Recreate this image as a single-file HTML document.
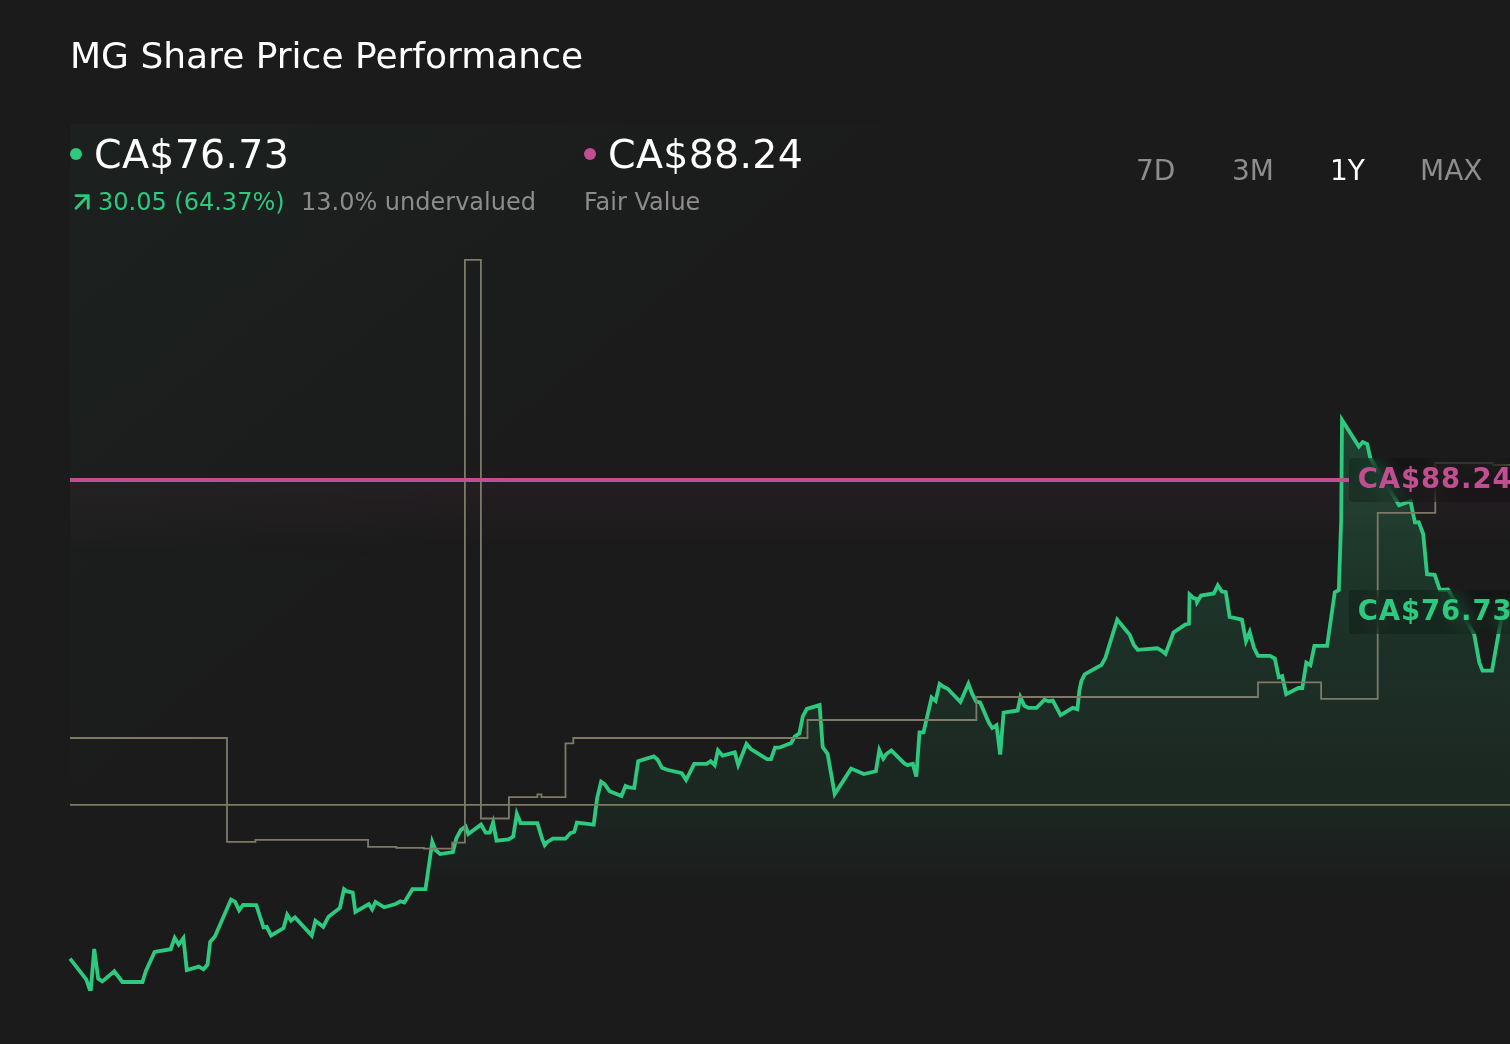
<!DOCTYPE html>
<html><head><meta charset="utf-8"><title>MG Share Price Performance</title>
<style>
html,body{margin:0;padding:0;background:#1b1b1b;}
body{width:1510px;height:1044px;position:relative;overflow:hidden;font-family:"DejaVu Sans","Liberation Sans",sans-serif;color:#fff;}
.abs{position:absolute;white-space:nowrap;line-height:1;will-change:transform;}
#title{left:70px;top:38px;font-size:36px;}
#chartbg{position:absolute;left:70px;top:124px;width:1440px;height:920px;background:linear-gradient(140deg,rgba(45,201,126,0.03) 0%,rgba(45,201,126,0.02) 18%,rgba(45,201,126,0.008) 28%,rgba(45,201,126,0) 36%);}
.big{font-size:39.5px;letter-spacing:0.3px;}
.sub{font-size:24px;}
.grey{color:#8c8c8c;}
.green{color:#2dc97e;}
.dot{position:absolute;width:12px;height:12px;border-radius:50%;}
.tab{font-size:28px;color:#8d8d8d;}
.lbl{position:absolute;left:1348.5px;width:170px;height:44px;border-radius:4px;background:rgba(0,0,0,0.22);backdrop-filter:blur(10px);-webkit-backdrop-filter:blur(10px);}
.lbl span{position:absolute;left:9.2px;top:7.4px;font-size:27.5px;letter-spacing:0.9px;font-weight:bold;line-height:1;white-space:nowrap;}
svg{position:absolute;left:0;top:0;}
</style></head><body>
<div id="chartbg"></div>
<div id="title" class="abs">MG Share Price Performance</div>

<div class="dot" style="left:70px;top:148px;background:#2dc97e"></div>
<div class="abs big" id="p1" style="left:94px;top:135px;">CA$76.73</div>
<svg id="arrow" width="20" height="20" style="left:72px;top:192px" viewBox="0 0 20 20"><path d="M4,16.2 L16.2,3.6 M4,3.6 H16.2 V16.2" fill="none" stroke="#2dc97e" stroke-width="2.9" stroke-linecap="round" stroke-linejoin="round"/></svg>
<div class="abs sub green" id="chg" style="left:98px;top:190px;">30.05 (64.37%)</div>
<div class="abs sub grey" id="uv" style="left:301px;top:190px;">13.0% undervalued</div>

<div class="dot" style="left:584px;top:148px;background:#c24e92"></div>
<div class="abs big" id="p2" style="left:608px;top:135px;">CA$88.24</div>
<div class="abs sub grey" id="fv" style="left:584px;top:190px;">Fair Value</div>

<div class="abs tab" id="t1" style="left:1136px;top:156.5px;">7D</div>
<div class="abs tab" id="t2" style="left:1231.5px;top:156.5px;">3M</div>
<div class="abs tab" id="t3" style="left:1329.5px;top:156.5px;color:#fff;">1Y</div>
<div class="abs tab" id="t4" style="left:1420px;top:156.5px;">MAX</div>

<svg width="1510" height="1044" viewBox="0 0 1510 1044">
<defs>
<linearGradient id="gg" x1="0" y1="400" x2="0" y2="900" gradientUnits="userSpaceOnUse">
<stop offset="0" stop-color="#2dc97e" stop-opacity="0.24"/>
<stop offset="0.48" stop-color="#2dc97e" stop-opacity="0.125"/>
<stop offset="0.81" stop-color="#2dc97e" stop-opacity="0.07"/>
<stop offset="1" stop-color="#2dc97e" stop-opacity="0"/>
</linearGradient>
<linearGradient id="pg" x1="0" y1="480" x2="0" y2="556" gradientUnits="userSpaceOnUse">
<stop offset="0" stop-color="#c24e92" stop-opacity="0.06"/>
<stop offset="1" stop-color="#c24e92" stop-opacity="0"/>
</linearGradient>
</defs>
<rect x="70" y="480" width="1440" height="80" fill="url(#pg)"/>
<path d="M70.0,958.6 L86.2,979.4 L89.6,989.0 L90.9,989.0 L94.2,949.0 L98.2,978.7 L102.3,981.4 L114.3,971.3 L122.4,982.0 L142.5,982.0 L145.8,971.3 L154.6,951.9 L170.7,949.2 L174.7,937.9 L178.7,944.5 L183.4,938.1 L186.8,970.0 L198.8,966.6 L203.5,969.3 L207.5,964.6 L210.2,941.8 L214.9,936.5 L231.0,899.6 L235.0,901.6 L239.1,910.3 L243.1,904.9 L256.3,905.1 L263.5,927.4 L266.8,926.8 L271.1,935.5 L283.6,928.1 L287.2,914.7 L291.0,920.7 L295.0,917.4 L311.8,935.5 L315.4,920.7 L323.2,926.8 L328.5,916.7 L339.9,908.0 L344.0,889.2 L346.6,891.2 L352.7,892.6 L355.4,912.0 L368.8,904.0 L372.1,909.3 L375.5,901.9 L384.2,907.3 L395.6,904.0 L400.3,901.3 L404.3,902.6 L412.4,889.2 L425.5,889.2 L432.3,842.0 L435.4,850.0 L440.1,854.1 L452.9,852.1 L456.2,838.7 L460.9,829.9 L465.6,826.6 L468.3,834.0 L481.0,824.6 L485.7,832.6 L489.8,832.6 L493.1,822.5 L496.5,840.7 L508.5,839.3 L513.2,836.6 L516.8,813.8 L520.6,823.2 L537.4,823.2 L542.1,838.7 L544.7,845.1 L547.4,842.0 L552.8,838.7 L565.5,838.7 L570.2,833.3 L574.3,831.9 L576.9,822.6 L593.7,824.6 L597.1,798.4 L601.1,781.6 L604.5,784.0 L609.6,791.2 L621.5,796.0 L625.5,785.9 L628.8,787.3 L634.2,787.9 L638.2,761.1 L653.7,756.4 L657.7,759.8 L662.0,767.8 L667.1,769.8 L681.8,773.2 L686.1,780.0 L694.2,763.8 L706.6,763.8 L710.7,761.1 L714.7,765.1 L718.0,750.4 L722.7,755.7 L734.8,752.4 L738.2,764.9 L746.5,743.9 L750.9,749.0 L767.0,759.1 L771.0,759.1 L775.0,747.7 L779.1,747.7 L791.2,743.0 L794.7,736.6 L799.4,733.3 L802.8,716.3 L806.8,708.9 L819.6,705.1 L822.7,747.1 L827.6,753.8 L834.7,794.1 L851.1,768.6 L863.8,774.0 L875.9,771.3 L879.3,750.1 L883.3,758.7 L886.6,753.8 L891.3,750.5 L904.1,763.2 L907.4,765.2 L912.8,763.9 L916.3,776.5 L919.5,732.4 L923.5,732.4 L931.6,697.5 L935.6,700.9 L939.6,683.9 L943.6,686.8 L947.7,688.8 L960.4,702.0 L968.4,683.8 L972.2,694.0 L976.3,701.7 L980.1,702.5 L988.8,722.6 L992.2,728.0 L996.5,725.3 L1000.2,754.5 L1003.6,712.6 L1017.7,710.5 L1020.4,697.2 L1024.4,705.8 L1028.4,707.9 L1036.5,707.9 L1044.5,699.8 L1048.5,701.2 L1052.8,700.5 L1060.6,715.2 L1072.7,707.9 L1077.4,709.2 L1079.4,690.4 L1081.4,681.0 L1084.7,674.3 L1101.5,664.9 L1105.5,657.6 L1117.2,619.6 L1129.7,634.8 L1133.7,644.8 L1137.7,649.8 L1157.3,648.3 L1161.5,650.5 L1165.5,653.8 L1173.5,632.4 L1185.6,624.3 L1189.0,623.7 L1189.6,594.4 L1193.7,598.2 L1196.3,598.8 L1197.0,602.3 L1201.0,595.5 L1213.8,593.5 L1217.8,585.3 L1221.8,591.5 L1225.8,592.1 L1229.6,616.9 L1241.9,619.6 L1246.0,641.1 L1249.7,632.2 L1254.0,647.8 L1258.0,655.8 L1270.1,655.8 L1274.8,658.5 L1278.8,677.3 L1282.2,676.0 L1286.2,694.1 L1298.3,688.0 L1302.3,688.0 L1306.3,662.6 L1310.4,665.2 L1314.4,645.8 L1327.1,645.8 L1334.8,592.3 L1338.8,590.2 L1341.2,520.0 L1342.0,420.0 L1358.9,446.5 L1362.7,442.1 L1367.2,444.0 L1370.3,458.0 L1399.0,505.1 L1410.5,501.3 L1414.9,522.3 L1418.8,522.1 L1423.2,534.0 L1427.0,574.2 L1434.7,574.8 L1439.8,589.8 L1448.0,589.5 L1474.2,634.4 L1479.3,662.4 L1482.5,670.7 L1492.0,670.7 L1498.4,634.4 L1502.5,611.0 L1510.0,611.0 L1510,1044 L70,1044 Z" fill="url(#gg)"/>
<path d="M70.0,958.6 L86.2,979.4 L89.6,989.0 L90.9,989.0 L94.2,949.0 L98.2,978.7 L102.3,981.4 L114.3,971.3 L122.4,982.0 L142.5,982.0 L145.8,971.3 L154.6,951.9 L170.7,949.2 L174.7,937.9 L178.7,944.5 L183.4,938.1 L186.8,970.0 L198.8,966.6 L203.5,969.3 L207.5,964.6 L210.2,941.8 L214.9,936.5 L231.0,899.6 L235.0,901.6 L239.1,910.3 L243.1,904.9 L256.3,905.1 L263.5,927.4 L266.8,926.8 L271.1,935.5 L283.6,928.1 L287.2,914.7 L291.0,920.7 L295.0,917.4 L311.8,935.5 L315.4,920.7 L323.2,926.8 L328.5,916.7 L339.9,908.0 L344.0,889.2 L346.6,891.2 L352.7,892.6 L355.4,912.0 L368.8,904.0 L372.1,909.3 L375.5,901.9 L384.2,907.3 L395.6,904.0 L400.3,901.3 L404.3,902.6 L412.4,889.2 L425.5,889.2 L432.3,842.0 L435.4,850.0 L440.1,854.1 L452.9,852.1 L456.2,838.7 L460.9,829.9 L465.6,826.6 L468.3,834.0 L481.0,824.6 L485.7,832.6 L489.8,832.6 L493.1,822.5 L496.5,840.7 L508.5,839.3 L513.2,836.6 L516.8,813.8 L520.6,823.2 L537.4,823.2 L542.1,838.7 L544.7,845.1 L547.4,842.0 L552.8,838.7 L565.5,838.7 L570.2,833.3 L574.3,831.9 L576.9,822.6 L593.7,824.6 L597.1,798.4 L601.1,781.6 L604.5,784.0 L609.6,791.2 L621.5,796.0 L625.5,785.9 L628.8,787.3 L634.2,787.9 L638.2,761.1 L653.7,756.4 L657.7,759.8 L662.0,767.8 L667.1,769.8 L681.8,773.2 L686.1,780.0 L694.2,763.8 L706.6,763.8 L710.7,761.1 L714.7,765.1 L718.0,750.4 L722.7,755.7 L734.8,752.4 L738.2,764.9 L746.5,743.9 L750.9,749.0 L767.0,759.1 L771.0,759.1 L775.0,747.7 L779.1,747.7 L791.2,743.0 L794.7,736.6 L799.4,733.3 L802.8,716.3 L806.8,708.9 L819.6,705.1 L822.7,747.1 L827.6,753.8 L834.7,794.1 L851.1,768.6 L863.8,774.0 L875.9,771.3 L879.3,750.1 L883.3,758.7 L886.6,753.8 L891.3,750.5 L904.1,763.2 L907.4,765.2 L912.8,763.9 L916.3,776.5 L919.5,732.4 L923.5,732.4 L931.6,697.5 L935.6,700.9 L939.6,683.9 L943.6,686.8 L947.7,688.8 L960.4,702.0 L968.4,683.8 L972.2,694.0 L976.3,701.7 L980.1,702.5 L988.8,722.6 L992.2,728.0 L996.5,725.3 L1000.2,754.5 L1003.6,712.6 L1017.7,710.5 L1020.4,697.2 L1024.4,705.8 L1028.4,707.9 L1036.5,707.9 L1044.5,699.8 L1048.5,701.2 L1052.8,700.5 L1060.6,715.2 L1072.7,707.9 L1077.4,709.2 L1079.4,690.4 L1081.4,681.0 L1084.7,674.3 L1101.5,664.9 L1105.5,657.6 L1117.2,619.6 L1129.7,634.8 L1133.7,644.8 L1137.7,649.8 L1157.3,648.3 L1161.5,650.5 L1165.5,653.8 L1173.5,632.4 L1185.6,624.3 L1189.0,623.7 L1189.6,594.4 L1193.7,598.2 L1196.3,598.8 L1197.0,602.3 L1201.0,595.5 L1213.8,593.5 L1217.8,585.3 L1221.8,591.5 L1225.8,592.1 L1229.6,616.9 L1241.9,619.6 L1246.0,641.1 L1249.7,632.2 L1254.0,647.8 L1258.0,655.8 L1270.1,655.8 L1274.8,658.5 L1278.8,677.3 L1282.2,676.0 L1286.2,694.1 L1298.3,688.0 L1302.3,688.0 L1306.3,662.6 L1310.4,665.2 L1314.4,645.8 L1327.1,645.8 L1334.8,592.3 L1338.8,590.2 L1341.2,520.0 L1342.0,420.0 L1358.9,446.5 L1362.7,442.1 L1367.2,444.0 L1370.3,458.0 L1399.0,505.1 L1410.5,501.3 L1414.9,522.3 L1418.8,522.1 L1423.2,534.0 L1427.0,574.2 L1434.7,574.8 L1439.8,589.8 L1448.0,589.5 L1474.2,634.4 L1479.3,662.4 L1482.5,670.7 L1492.0,670.7 L1498.4,634.4 L1502.5,611.0 L1510.0,611.0" fill="none" stroke="#2dc97e" stroke-width="3.8" stroke-linejoin="miter" stroke-miterlimit="5" stroke-linecap="butt"/>
<path d="M70,804.9 H1510" fill="none" stroke="#7d7a66" stroke-width="1.8"/>
<path d="M70.0,738.0 L227.0,738.0 L227.0,841.9 L255.4,841.9 L255.4,839.8 L368.1,839.8 L368.1,846.9 L396.3,846.9 L396.3,847.8 L424.0,847.8 L424.0,848.7 L452.2,848.7 L452.2,842.7 L464.9,842.7 L464.9,259.8 L480.9,259.8 L480.9,818.5 L508.9,818.5 L508.9,797.1 L537.4,797.1 L537.4,794.4 L541.4,794.4 L541.4,797.1 L565.5,797.1 L565.5,743.4 L573.3,743.4 L573.3,738.0 L807.5,738.0 L807.5,720.0 L976.4,720.0 L976.4,697.0 L1258.0,697.0 L1258.0,682.4 L1321.1,682.4 L1321.1,698.9 L1377.7,698.9 L1377.7,512.8 L1435.3,512.8 L1435.3,463.0 L1492.7,463.0 L1492.7,465.0 L1510.0,465.0" fill="none" stroke="#7d7a66" stroke-width="1.8" stroke-linejoin="miter"/>
<path d="M70,480 H1349" fill="none" stroke="#c24e92" stroke-width="4"/>
</svg>

<div class="lbl" style="top:458px;"><span style="color:#c24e92">CA$88.24</span></div>
<div class="lbl" style="top:590px;"><span style="color:#2dc97e">CA$76.73</span></div>
</body></html>
